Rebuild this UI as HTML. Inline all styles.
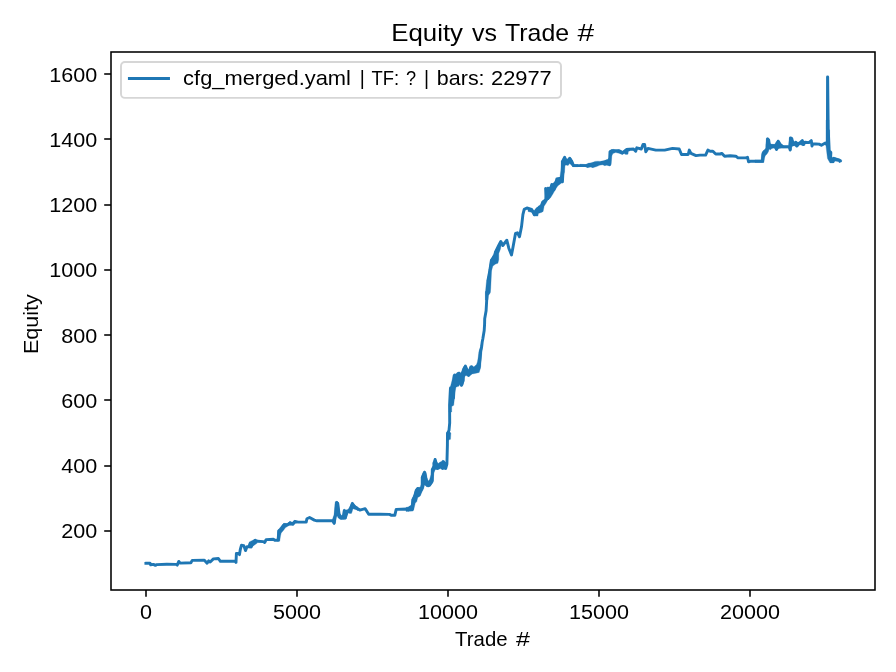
<!DOCTYPE html>
<html><head><meta charset="utf-8"><style>
html,body{margin:0;padding:0;background:#fff;width:896px;height:672px;overflow:hidden}
svg{display:block;will-change:transform}
text{font-family:"Liberation Sans", sans-serif;fill:#000}
</style></head><body>
<svg width="896" height="672" viewBox="0 0 896 672">
<rect x="0" y="0" width="896" height="672" fill="#fff"/>
<polyline points="145.9,563.3 150,563.2 150.7,564.8 153.4,564.4 155.4,565.4 156.7,564.6 166.8,564.2 176.2,564.4 177.2,565.1 178.8,561.4 180.2,563.1 190.9,562.7 192.2,560.4 204.4,560.3 207.1,563.2 208.7,560.9 210.2,562 213.4,558.9 218.4,558.5 220.4,561.3 235.2,561.3 236,562.4 236.4,553.4 238.4,553.4 239.5,554.6 240.3,549.5 241.5,545.2 243.8,545.6 245.5,550.6 247,546.8 248.9,546.8 250.1,543.7 251.3,546.4 253.2,542.5 255.2,540.2 257.5,541.3 263.4,541.6 264.7,542.5 266.1,539.6 273.4,539.3 274.8,540.2 278.1,540.2 278.8,530.8 281.5,528.8 284.1,524.8 287.5,524.6 290.2,522.8 292.9,524.1 294.9,521.5 298.2,522.1 306.2,522.1 306.9,518.8 309.6,517.5 314.3,520.1 317,520.8 333,520.8 334.1,523.2 335.7,514.1 336.8,502.7 337.7,503.4 339.1,514.1 341.1,518.1 343.1,518.1 344.3,510.8 345.3,517.8 347.3,511.8 349.6,511.5 350.6,508.5 352.4,503.6 354,506.3 357,508.3 359.8,510.1 365.2,508.7 368.7,514.2 380.1,514.2 389.5,514.4 391.5,515.3 394.8,515.3 396.2,509.4 406.9,509 408.2,509.9 409.5,508.1 410.6,506.9 412.3,509.2 412.8,499.7 414.5,496.9 416.2,490.8 417.8,488.5 418.4,495.2 420.1,491.9 422.3,487.4 422.3,477.4 424.5,472.3 425.6,477.4 427.3,485.2 429.6,485.2 432.3,480.7 432.3,469.6 434,466.2 435.1,459.5 436.3,464 437.4,468.4 440.7,463.4 442.4,468.4 443.5,461.7 445.7,468.4 446.9,464 447.4,445 447.5,433.3 449,430.3 449.7,422.9 449.6,405 450.5,388 451.5,402 452.3,388 453.5,398 454.2,376 454.7,375 455.6,385.7 457.9,373.7 459.2,373.2 461.4,385.3 463.2,380.4 463.7,369.6 465.4,366.1 466.8,369.6 468.6,375.4 470.8,367 472.1,367 473.9,369.5 477.1,369.5 478.8,369 479.3,366 480.1,357 480.7,351 481.6,347 482.2,342 482.8,339 484.2,330.5 484.6,324.2 484.7,318.8 486.1,310.8 486.7,300.1 486.7,292.1 488.7,292.1 488.7,284 488,280.4 490,269.6 491.4,260.3 494.1,256.2 496.1,261.6 495.4,252.2 498.7,245.5 500.8,241.5 502.8,245.5 506.8,240.2 508.8,248.2 511.5,254.9 512.8,248.2 515.5,233.5 517.5,232.8 519.5,236.8 521.5,226.8 522.9,214.7 524.2,209.4 526.9,208 531.6,209.4 534.2,214.7 536.2,210.7 539.5,206.9 541.2,210.8 542.8,201.9 546.2,199.7 545.6,188.5 547.9,198.6 551.8,184.6 554,189.6 556.8,179 559.6,178.5 562.4,181.8 562.9,172.9 562.4,161.7 564.6,157.3 566.3,162.9 567.9,160.6 569.6,158.4 571.9,161.7 573.5,165.6 585.8,165.6 587.5,166.2 589.2,164.5 592.5,166.2 594.2,164.5 597,163.4 600,163.5 602.2,162.3 605,164 606.7,161.2 609.5,164.6 610,151.7 612.3,150.6 617.9,150.6 622.3,152.9 626.8,149.5 633.5,149 635.7,151.2 636.8,147.8 641.3,149 643,144.5 644.6,144.5 645.8,151.7 648,148.4 655.8,150.1 664.7,150.1 672.5,148.4 679.2,149 681.5,154.5 688.2,154.5 689.3,150.1 691,153.4 696,155.6 700,155.1 705.6,155.1 707.9,150.1 710.1,151.2 712.9,151.2 715.7,154 720.1,154 721.8,153.4 724.6,156.2 730.2,155.7 735.8,156.2 738,157.9 745.8,157.9 747.5,157.3 748.6,161.8 750.3,161.3 762.5,161.3 763.1,153.4 764.8,151.2 767,150.1 767.6,138.9 768.7,140 769.8,147.9 771.5,145.6 774.8,145.6 776.5,149.5 778.2,141.2 779.8,144 782.6,146.7 788.2,146.7 789.4,147.3 790.2,150 790.5,137.9 791.7,138.3 792.9,143 793.7,144.5 795.6,142.2 796.8,146.1 798.8,143.8 802.3,140.6 803.4,144.5 805,142.2 808.9,142.6 811.3,140.6 812,146.1 812.8,143.8 819.1,144.1 821.4,145.3 825.3,143 827.4,145.3 827.55,76.9 827.65,76.9 828.2,129 829.2,150.8 830.8,152.3 830.5,158 831.6,161.5 833.1,161.5 833.9,158.6 839.4,160.2 839.8,161" fill="none" stroke="#1f77b4" stroke-width="2.92" stroke-linejoin="round" stroke-linecap="square"/>
<polygon points="406,507.5 409,506.7 411,506 412,500 412.6,497.5 414,494.5 415.3,489.6 416.7,487.8 420.3,487.1 421.2,484 421.3,477.4 423.1,472.4 424.6,471 426,472.1 427.1,478.1 428.1,481 429.6,479.6 431.2,474 431.7,468.9 433.5,466 436,467.4 433.9,473.1 432.8,482.8 430.6,485.3 428.9,487.1 426.7,486.7 424.6,484.9 423.5,488.9 421.7,492.4 420.3,496 417.8,497.4 416.7,501.7 415.3,503.1 413.9,508.9 413.1,511 406,511.4" fill="#1f77b4" stroke="#1f77b4" stroke-width="0.3" stroke-linejoin="round"/>
<polygon points="432.5,463 433.5,461 435,458.3 436.3,461 438,463.5 440,462.5 442.8,460.2 444.5,461.5 446.2,462.5 446.5,469 444,469.5 441,468.5 438,469.5 435,469.5 433.5,470" fill="#1f77b4" stroke="#1f77b4" stroke-width="0.3" stroke-linejoin="round"/>
<polygon points="446.6,432.4 449,431.2 450.9,433 450.5,439.3 448.6,440 446.6,440" fill="#1f77b4" stroke="#1f77b4" stroke-width="0.3" stroke-linejoin="round"/>
<polygon points="449,412 449.4,388.6 450.2,387.5 452.5,378.6 453.3,375.1 455.2,374.3 456.8,373.2 458.7,372.4 460.6,373.2 461.8,370.8 463.3,367 464.9,365.4 466.4,366.6 468,370.1 469.9,367 471.5,365.4 473.4,367.3 476.5,364.6 477.4,362 478.3,357 478.8,352 480.1,348 481.4,343.5 482.6,344 481.9,352 481.4,357 481,362 480.6,367 479.2,372.4 474.9,373.5 472.2,373.9 470.3,375.5 468,376.2 466,375.5 464.1,377 463.7,381.7 463,385.5 461,386.3 460.2,384 458.7,386.3 456,387.1 455.2,391 454.4,398.7 453.7,405.3 451.7,406.4 451.7,412" fill="#1f77b4" stroke="#1f77b4" stroke-width="0.3" stroke-linejoin="round"/>
<polygon points="485.4,300 485.4,292.7 486.3,282.9 487.1,279.3 488.5,273.9 489.4,266.8 490.7,259.6 492.1,257.9 494.3,252.1 497,249.8 499.2,244.5 500.5,241 501.5,243 500.5,248.9 498.8,253.4 498.8,259.6 497.9,263.2 495.6,264.1 492.9,265.9 491.6,270.4 491.2,278.4 490.7,288.2 490.3,292.7 488.5,295.4 488,300" fill="#1f77b4" stroke="#1f77b4" stroke-width="0.3" stroke-linejoin="round"/>
<polygon points="528,207.8 531.1,208.9 534.3,210.4 536.3,207.8 539.5,206.3 541.5,202.1 544.7,199 545.7,188.5 547.3,187 549.9,187 551.4,183.9 553,183.3 555.6,180.7 557.2,178.1 559.8,178.1 560.8,170.8 561.3,161.5 563.9,157.3 565.5,156.8 567.1,159.4 569.1,157.8 570.7,157.3 572.8,161.5 573.8,164.6 578,164.6 578,166.7 572.8,166.7 571.2,165.1 569.7,163.5 568.1,165.6 566,165.1 565,165.6 564.5,171.9 562.9,177.1 562.4,182.3 560.3,183.9 557.7,185.9 555.1,190.1 553,193.8 550.4,197.9 547.8,200 546.2,203.1 544.1,206.3 543.1,211.5 541,212.5 538.4,213.5 537.9,216.1 534.3,216.1 532.7,212.5 530.1,212 528,211.5" fill="#1f77b4" stroke="#1f77b4" stroke-width="0.3" stroke-linejoin="round"/>
<polygon points="580,164.2 585.6,164.5 587.8,163.4 591.2,162.8 592.8,162.3 595.1,161.4 597.9,161.2 601.2,161.4 604,160.6 607.3,159.5 609,158.1 609.6,150.8 611.3,149.7 613.5,149.4 616.3,150.6 619.1,149.4 620.7,150 623,151.4 625.2,149.4 627.4,148.3 630,148.3 630,150.8 628.3,151.4 628,154.2 625.8,154.5 624.1,153.6 622.4,154.5 619.1,153.3 615.7,152.5 612.9,153.6 611.8,155.9 611.2,164.2 610.4,165.6 607.9,165.6 606.2,165.3 604.6,165.6 602.3,164.8 599.5,165.3 596.7,166.5 593.4,167.6 591.2,167 587.8,167.6 585.6,166.5 580,166.5" fill="#1f77b4" stroke="#1f77b4" stroke-width="0.3" stroke-linejoin="round"/>
<polygon points="755,159.9 761.1,159.9 761.7,154.6 762.8,151.2 764.5,149.8 765.9,147.9 765.9,144.5 766.4,138.4 767.8,137.8 769.2,139.2 769.8,143.4 771.7,144.2 774.5,144.5 776.2,141.7 777.9,140 779.6,141.2 780.7,143.7 782.9,145.1 784,145.9 788.5,145.9 789.3,137.8 791,137.3 792.9,140 794.1,142.3 796.3,141.7 799.6,142.3 802.2,140 804.1,141.2 805,141.7 805,145.3 802.4,145.6 799.6,144.5 798,146.5 796.3,146.7 794.1,145.6 791.8,146.7 791.3,150.1 789.6,150.4 788.5,147.9 782.9,148.1 779,148.4 777.3,150.1 775.6,149.8 774.5,147.9 771.7,148.4 770.6,149.8 769,149 768.4,151.8 767,154 765.3,155.7 764.5,157.9 763.9,162.4 755,162.4" fill="#1f77b4" stroke="#1f77b4" stroke-width="0.3" stroke-linejoin="round"/>
<polygon points="277.9,530 279,528.9 282.3,524.8 283.8,523.3 287.5,523.7 289.8,521.4 292,522.5 294.6,520.3 296.5,521.1 296.5,523.3 295,523.3 293.5,525.2 289,525.5 285.3,527.8 283.8,530 281.2,533 280.5,536 279.7,541.2 277.6,541.2 277.6,532" fill="#1f77b4" stroke="#1f77b4" stroke-width="0.3" stroke-linejoin="round"/>
<polygon points="248.6,545 249.2,542.1 250.2,541.4 253.3,540.1 255.3,539.1 256.3,540.1 257.3,543.1 255.3,544.4 252.8,546.2 251.8,548.2 249.7,548.2 248.2,547.2" fill="#1f77b4" stroke="#1f77b4" stroke-width="0.3" stroke-linejoin="round"/>
<polygon points="332.2,520.1 333.8,515.5 334.25,513.4 334.9,504.25 335.3,501.75 337,501.1 338.6,502.6 339,506.5 339.6,513.1 340.5,514.7 341.9,515.4 342.9,515.1 343.4,509.8 344.5,509.2 345.9,510.1 347.8,509.5 349.1,507.9 350.4,505.6 351.4,502.9 352.4,502.1 353.7,503.6 355,504.9 356.7,506.4 358,507.2 358,510.8 356.3,509.8 354.4,509.2 353.4,508.8 352.7,509.5 352.1,511.8 351.4,513.4 349.5,513.4 348.5,512.8 347.2,513.7 346.5,515.1 346.2,519 344.5,519.6 342.6,519.3 340.9,519.6 339.6,519 338,517.7 337.2,516 336.3,516.3 335.7,518.8 335.5,523 334.25,524.7 332.6,523" fill="#1f77b4" stroke="#1f77b4" stroke-width="0.3" stroke-linejoin="round"/>
<polygon points="826.1,120 828.9,120 828.9,129.3 829.6,130 829.6,150.7 831.8,152.9 831.8,157.5 833.6,157.1 839.3,158.9 841.8,160 841.4,162.1 834.6,161.1 833.6,162.9 830,162.9 827.5,158.6 826.1,147.1" fill="#1f77b4" stroke="#1f77b4" stroke-width="0.3" stroke-linejoin="round"/>
<rect x="111.0" y="52.0" width="764.00" height="538.00" fill="none" stroke="#000" stroke-width="1.56" stroke-linejoin="miter"/>
<line x1="104.20" y1="74.00" x2="111.0" y2="74.00" stroke="#000" stroke-width="1.56"/>
<line x1="104.20" y1="139.00" x2="111.0" y2="139.00" stroke="#000" stroke-width="1.56"/>
<line x1="104.20" y1="205.00" x2="111.0" y2="205.00" stroke="#000" stroke-width="1.56"/>
<line x1="104.20" y1="270.00" x2="111.0" y2="270.00" stroke="#000" stroke-width="1.56"/>
<line x1="104.20" y1="335.00" x2="111.0" y2="335.00" stroke="#000" stroke-width="1.56"/>
<line x1="104.20" y1="400.00" x2="111.0" y2="400.00" stroke="#000" stroke-width="1.56"/>
<line x1="104.20" y1="466.00" x2="111.0" y2="466.00" stroke="#000" stroke-width="1.56"/>
<line x1="104.20" y1="531.00" x2="111.0" y2="531.00" stroke="#000" stroke-width="1.56"/>
<line x1="146.00" y1="590.0" x2="146.00" y2="596.80" stroke="#000" stroke-width="1.56"/>
<line x1="297.00" y1="590.0" x2="297.00" y2="596.80" stroke="#000" stroke-width="1.56"/>
<line x1="448.00" y1="590.0" x2="448.00" y2="596.80" stroke="#000" stroke-width="1.56"/>
<line x1="599.00" y1="590.0" x2="599.00" y2="596.80" stroke="#000" stroke-width="1.56"/>
<line x1="750.00" y1="590.0" x2="750.00" y2="596.80" stroke="#000" stroke-width="1.56"/>
<text x="97.2" y="82.00" text-anchor="end" font-size="19.44" textLength="48.00" lengthAdjust="spacingAndGlyphs">1600</text>
<text x="97.2" y="147.00" text-anchor="end" font-size="19.44" textLength="48.00" lengthAdjust="spacingAndGlyphs">1400</text>
<text x="97.2" y="212.10" text-anchor="end" font-size="19.44" textLength="48.00" lengthAdjust="spacingAndGlyphs">1200</text>
<text x="97.2" y="277.40" text-anchor="end" font-size="19.44" textLength="48.00" lengthAdjust="spacingAndGlyphs">1000</text>
<text x="97.2" y="342.90" text-anchor="end" font-size="19.44" textLength="36.00" lengthAdjust="spacingAndGlyphs">800</text>
<text x="97.2" y="408.00" text-anchor="end" font-size="19.44" textLength="36.00" lengthAdjust="spacingAndGlyphs">600</text>
<text x="97.2" y="473.30" text-anchor="end" font-size="19.44" textLength="36.00" lengthAdjust="spacingAndGlyphs">400</text>
<text x="97.2" y="538.00" text-anchor="end" font-size="19.44" textLength="36.00" lengthAdjust="spacingAndGlyphs">200</text>
<text x="145.90" y="618.9" text-anchor="middle" font-size="19.44" textLength="12.00" lengthAdjust="spacingAndGlyphs">0</text>
<text x="296.90" y="618.9" text-anchor="middle" font-size="19.44" textLength="48.00" lengthAdjust="spacingAndGlyphs">5000</text>
<text x="447.90" y="618.9" text-anchor="middle" font-size="19.44" textLength="60.00" lengthAdjust="spacingAndGlyphs">10000</text>
<text x="598.90" y="618.9" text-anchor="middle" font-size="19.44" textLength="60.00" lengthAdjust="spacingAndGlyphs">15000</text>
<text x="749.90" y="618.9" text-anchor="middle" font-size="19.44" textLength="60.00" lengthAdjust="spacingAndGlyphs">20000</text>
<text x="391.22" y="40.9" font-size="23.6" textLength="71.78" lengthAdjust="spacingAndGlyphs">Equity</text>
<text x="472.0" y="40.9" font-size="23.6" textLength="25.0" lengthAdjust="spacingAndGlyphs">vs</text>
<text x="505.0" y="40.9" font-size="23.6" textLength="64.1" lengthAdjust="spacingAndGlyphs">Trade</text>
<text x="577.6" y="40.9" font-size="23.6" textLength="16.66" lengthAdjust="spacingAndGlyphs">#</text>
<text x="455.14" y="645.8" font-size="19.44" textLength="52.46" lengthAdjust="spacingAndGlyphs">Trade</text>
<text x="516.06" y="645.8" font-size="19.44" textLength="13.9" lengthAdjust="spacingAndGlyphs">#</text>
<text transform="translate(38.3,324.1) rotate(-90)" x="0" y="0" text-anchor="middle" font-size="19.44" textLength="60" lengthAdjust="spacingAndGlyphs">Equity</text>
<rect x="121.0" y="62.0" width="440.0" height="35.9" rx="3.9" ry="3.9" fill="#fff" fill-opacity="0.8" stroke="#d6d6d6" stroke-width="1.94"/>
<line x1="129.4" y1="78.5" x2="168.5" y2="78.5" stroke="#1f77b4" stroke-width="2.92" stroke-linecap="square"/>
<text x="183.14" y="84.8" font-size="19.44" textLength="167.83" lengthAdjust="spacingAndGlyphs">cfg_merged.yaml</text>
<text x="359.85" y="84.8" font-size="19.44">|</text>
<text x="371.4" y="84.8" font-size="19.44" textLength="27.62" lengthAdjust="spacingAndGlyphs">TF:</text>
<text x="405.95" y="84.8" font-size="19.44" textLength="10.08" lengthAdjust="spacingAndGlyphs">?</text>
<text x="423.95" y="84.8" font-size="19.44">|</text>
<text x="436.89" y="84.8" font-size="19.44" textLength="47.7" lengthAdjust="spacingAndGlyphs">bars:</text>
<text x="490.99" y="84.8" font-size="19.44" textLength="60.81" lengthAdjust="spacingAndGlyphs">22977</text>
</svg>
</body></html>
